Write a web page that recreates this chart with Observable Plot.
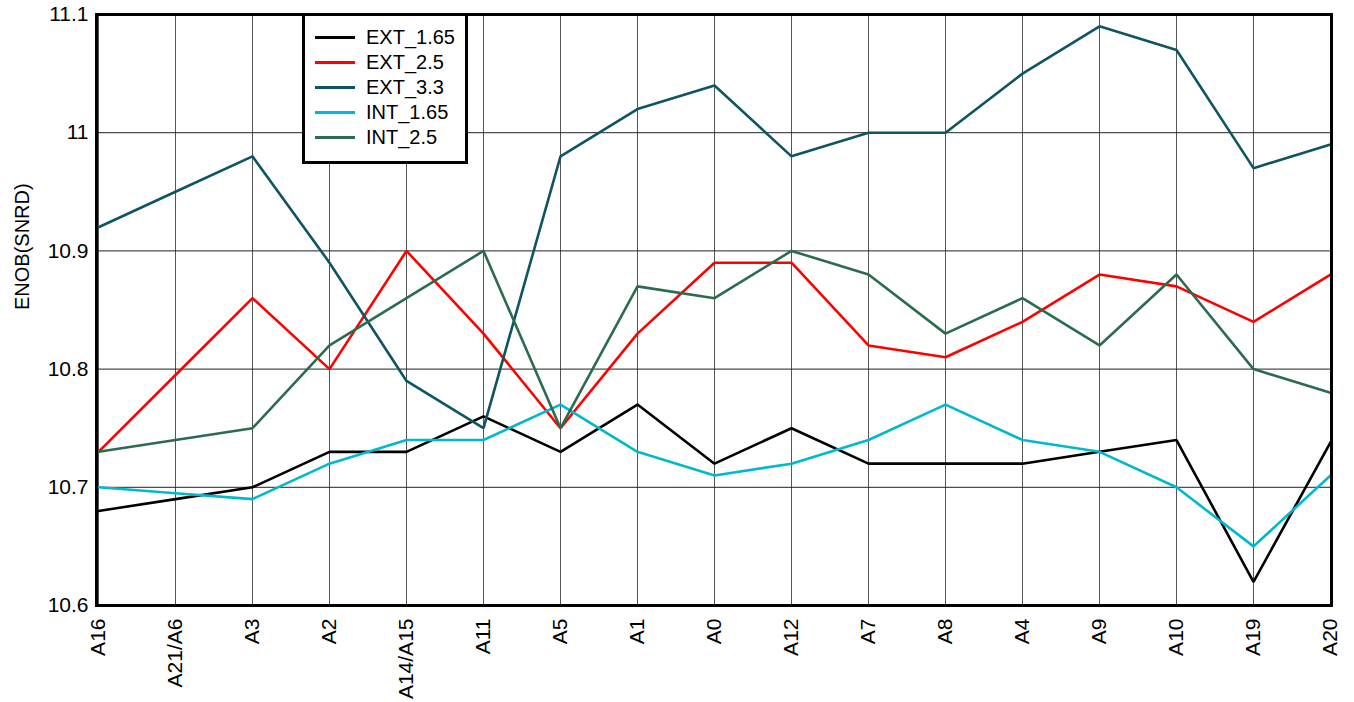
<!DOCTYPE html>
<html>
<head>
<meta charset="utf-8">
<script src="https://cdn.jsdelivr.net/npm/d3@7"></script>
<script src="https://cdn.jsdelivr.net/npm/@observablehq/plot@0.6"></script>
<style>
  html, body { margin: 0; padding: 0; background: #fff; }
  #wrap { position: relative; width: 1354px; height: 702px; font-family: "Liberation Sans", Arial, sans-serif; }
  #legend { position: absolute; left: 302px; top: 13px; width: 160px; height: 145px; border: 3px solid #000; background: #fff; box-sizing: content-box; }
  .row { position: absolute; left: 10px; height: 25px; display: flex; align-items: center; font-size: 20px; color: #000; }
  .sw { width: 40px; height: 0; border-top: 3px solid; margin-right: 11px; }
</style>
</head>
<body>
<div id="wrap"></div>
<script>
const categories = ["A16","A21/A6","A3","A2","A14/A15","A11","A5","A1","A0","A12","A7","A8","A4","A9","A10","A19","A20"];
const seriesNames = ["EXT_1.65","EXT_2.5","EXT_3.3","INT_1.65","INT_2.5"];
const seriesColors = ["#000000","#ff0000","#0f5463","#00b9cc","#2c6b4e"];
const ext165 = [10.68,10.69,10.70,10.73,10.73,10.76,10.73,10.77,10.72,10.75,10.72,10.72,10.72,10.73,10.74,10.62,10.738];
const ext25  = [10.73,10.795,10.86,10.80,10.90,10.83,10.75,10.83,10.89,10.89,10.82,10.81,10.84,10.88,10.87,10.84,10.88];
const ext33  = [10.92,10.95,10.98,10.89,10.79,10.75,10.98,11.02,11.04,10.98,11.00,11.00,11.05,11.09,11.07,10.97,10.99];
const int165 = [10.70,10.695,10.69,10.72,10.74,10.74,10.77,10.73,10.71,10.72,10.74,10.77,10.74,10.73,10.70,10.65,10.71];
const int25  = [10.73,10.74,10.75,10.82,10.86,10.90,10.75,10.87,10.86,10.90,10.88,10.83,10.86,10.82,10.88,10.80,10.78];
const yTicks = [10.6,10.7,10.8,10.9,11.0,11.1];
const yLabel = "ENOB(SNRD)";

const seriesValues = [ext165, ext25, ext33, int165, int25];
const data = [];
seriesNames.forEach((s, i) => categories.forEach((c, j) => data.push({series: s, cat: c, value: seriesValues[i][j]})));

const font = "'Liberation Sans', Arial, sans-serif";
const chart = Plot.plot({
  width: 1354,
  height: 702,
  marginLeft: 96,
  marginRight: 23,
  marginTop: 14,
  marginBottom: 97,
  style: {fontFamily: font, fontSize: "20px", color: "#000", background: "#fff", overflow: "visible"},
  x: {type: "point", domain: categories, padding: 0, label: null},
  y: {domain: [10.6, 11.1], label: null},
  color: {domain: seriesNames, range: seriesColors},
  marks: [
    Plot.gridX(categories, {stroke: "#555", strokeOpacity: 1, strokeWidth: 1}),
    Plot.gridY(yTicks, {stroke: "#222", strokeOpacity: 1, strokeWidth: 1}),
    Plot.line(data, {x: "cat", y: "value", z: "series", stroke: "series", strokeWidth: 2.6, strokeLinejoin: "miter"}),
    Plot.frame({stroke: "#000", strokeWidth: 3}),
    Plot.axisY(yTicks, {tickSize: 0, tickPadding: 8, tickFormat: d => String(Math.round(d * 10) / 10), fontSize: 21}),
    Plot.axisX(categories, {tickSize: 0, tickPadding: 13, tickRotate: -90, fontSize: 21}),
    Plot.text([yLabel], {text: d => d, frameAnchor: "left", dx: -74, rotate: -90, fontSize: 20})
  ]
});

const wrap = document.getElementById("wrap");
wrap.appendChild(chart);
const legend = document.createElement("div");
legend.id = "legend";
seriesNames.forEach((s, i) => {
  const row = document.createElement("div");
  row.className = "row";
  row.style.top = (9 + i * 25) + "px";
  const sw = document.createElement("div");
  sw.className = "sw";
  sw.style.borderTopColor = seriesColors[i];
  const lab = document.createElement("span");
  lab.textContent = s;
  row.appendChild(sw);
  row.appendChild(lab);
  legend.appendChild(row);
});
wrap.appendChild(legend);
</script>
</body>
</html>
